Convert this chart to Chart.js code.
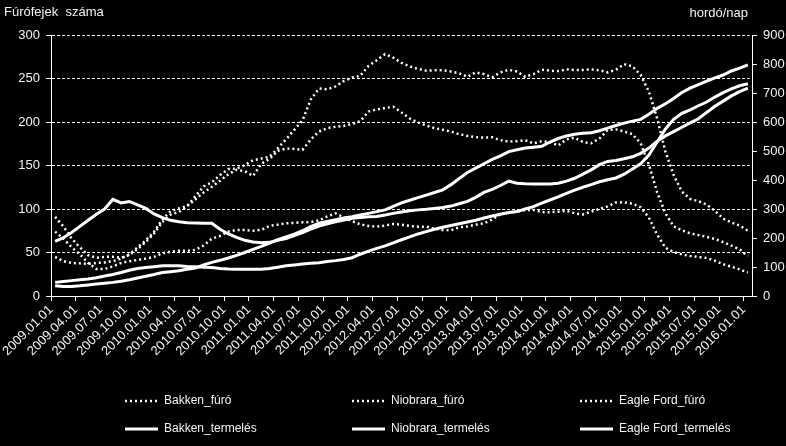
<!DOCTYPE html>
<html>
<head>
<meta charset="utf-8">
<script src="https://cdn.jsdelivr.net/npm/chart.js@4/dist/chart.umd.min.js"></script>
<style>
  html, body { margin: 0; padding: 0; background: #000; }
  #chart { display: block; }
</style>
</head>
<body>
<canvas id="chart" width="786" height="446"></canvas>
<script>
// negyedéves tengelyfeliratok
var tickLabels = [
  '2009.01.01', '2009.04.01', '2009.07.01', '2009.10.01',
  '2010.01.01', '2010.04.01', '2010.07.01', '2010.10.01',
  '2011.01.01', '2011.04.01', '2011.07.01', '2011.10.01',
  '2012.01.01', '2012.04.01', '2012.07.01', '2012.10.01',
  '2013.01.01', '2013.04.01', '2013.07.01', '2013.10.01',
  '2014.01.01', '2014.04.01', '2014.07.01', '2014.10.01',
  '2015.01.01', '2015.04.01', '2015.07.01', '2015.10.01',
  '2016.01.01'
];

// fúrófejek száma (havi, 2009.01 - 2016.01), bal tengely
var bakkenFuro = [
  91, 80, 66, 56, 47, 44, 45, 45, 44, 47,
  54, 62, 72, 85, 93.5, 96.5, 103, 111, 119, 125.5,
  132.5, 140, 145, 143.5, 138, 152, 157.5, 167, 169.5, 169,
  168, 180, 189, 193, 194.5, 195.5, 197.7, 201, 212, 214.5,
  216, 217.5, 211, 204, 199.5, 196, 193, 191, 189, 186,
  184, 182.5, 182, 182.4, 179, 177.5, 178, 179, 175.5, 178,
  177, 173, 180, 182, 177, 175.5, 181, 190.8, 191.5, 189,
  186, 175.5, 151, 119, 95, 80, 75.5, 72, 70, 68,
  65.5, 62, 58, 53.5, 46
];
var niobraraFuro = [
  74, 66, 56, 48, 38, 31, 31, 34, 38, 40,
  41.5, 43, 45, 49, 51, 52, 52, 53, 58, 66,
  69, 74, 76, 76, 75, 76, 80.5, 82, 83.5, 84,
  84.7, 85, 87, 91.5, 95, 90.5, 86, 82.4, 80.5, 79.7,
  81, 82.8, 82, 80.5, 79.7, 79.7, 77.3, 76, 75.5, 79,
  80, 82, 83.5, 88, 94, 95.5, 96.9, 98.9, 98.9, 96.5,
  96.2, 96.9, 98, 95, 93.8, 96.9, 100, 103, 107.5, 107.7,
  106.3, 102, 90, 70.5, 55.5, 50.5, 47.8, 46, 44.8, 43.8,
  40.5, 36.5, 33.7, 30.5, 27
];
var eagleFordFuro = [
  45, 40, 38, 37.5, 37, 38, 38.5, 40, 43, 48,
  56, 64, 74, 88, 97.5, 100.5, 103.5, 114.5, 126, 130.5,
  139, 146, 146.5, 150.5, 156, 158, 160, 170, 180, 191,
  202, 226, 238.5, 237.5, 241, 247, 251, 253, 264.5, 271,
  278, 274, 268, 264, 261, 259, 259.5, 259.5, 258, 256,
  252, 257, 255, 251.5, 257, 260, 258, 252, 255, 260,
  259, 258.5, 260.5, 259.8, 259.8, 260.5, 259.5, 257, 260, 266.5,
  264, 254, 235, 204, 166, 139, 120, 111.5, 109, 105,
  98, 89, 84.5, 81, 75
];

// termelés, hordó/nap, jobb tengely
var bakkenTermeles = [
  188, 201, 219, 240, 261, 282, 300, 333, 321, 326,
  314, 302, 283, 270, 261, 256, 253, 252, 251, 251,
  230, 214, 202, 192, 186, 184, 185, 192, 198, 208,
  219, 231, 241, 249, 256, 262, 268, 271, 273, 274,
  279, 285, 290, 294, 297, 299, 302, 305, 310, 318,
  326, 340, 357, 368, 381, 396, 389, 387, 386, 386,
  386, 389, 396, 406, 420, 435, 453, 464, 467, 473,
  480, 492, 510, 534, 552, 567, 582, 597, 611, 633,
  654, 672, 690, 705, 717
];
var niobraraTermeles = [
  47, 50, 53, 56, 59, 63, 69, 74, 81, 89,
  95, 98, 101, 104, 104, 104, 102, 101, 99, 98,
  95, 93, 92, 92, 92, 92, 95, 99, 104, 107,
  110, 113, 115, 119, 122, 126, 132, 144, 155, 164,
  173, 183, 194, 204, 214, 222, 230, 237, 243, 249,
  255, 261, 269, 276, 282, 288, 291, 300, 308, 320,
  331, 342, 354, 365, 375, 384, 394, 401, 407, 420,
  438, 456, 486, 531, 576, 609, 630, 642, 656, 669,
  686, 701, 714, 725, 732
];
var eagleFordTermeles = [
  35, 33, 33, 35, 38, 41, 44, 47, 51, 56,
  62, 68, 74, 81, 84, 87, 92, 96, 107, 116,
  123, 131, 140, 150, 161, 171, 182, 194, 204, 213,
  225, 239, 251, 257, 263, 269, 273, 279, 285, 291,
  297, 309, 321, 330, 339, 348, 357, 366, 384, 405,
  426, 441, 456, 471, 483, 498, 504, 510, 513, 516,
  531, 543, 552, 558, 561, 563, 570, 579, 588, 596,
  603, 609, 627, 647, 663, 681, 702, 717, 729, 741,
  752, 762, 776, 786, 797
];

var FONT = '"Liberation Sans", Arial, sans-serif';
var TXT = '#f2f2f2';
var DOTS = [2, 3];

// havi pontok a hónap közepére
function pts(arr) {
  return arr.map(function(v, i) { return { x: i + 0.5, y: v }; });
}

function furo(label, arr) {
  return { label: label, data: pts(arr), yAxisID: 'y', borderColor: '#fff',
    borderWidth: 2.5, borderDash: DOTS, pointRadius: 0, tension: 0, fill: false };
}
function termeles(label, arr) {
  return { label: label, data: pts(arr), yAxisID: 'y1', borderColor: '#fff',
    borderWidth: 3, pointRadius: 0, tension: 0, fill: false };
}

// feliratok és jelmagyarázat
var decor = {
  id: 'decor',
  beforeDraw: function(chart) {
    var c = chart.ctx;
    c.save();
    c.fillStyle = '#000';
    c.fillRect(0, 0, chart.width, chart.height);
    c.restore();
  },
  afterDraw: function(chart) {
    var c = chart.ctx;
    c.save();
    c.fillStyle = TXT;
    c.font = '13px ' + FONT;
    c.textBaseline = 'middle';
    c.textAlign = 'left';
    c.fillText('Fúrófejek  száma', 4, 12);
    c.textAlign = 'right';
    c.fillText('hordó/nap', 748, 13);

    var cols = [125, 352, 580];
    var rows = [401, 429];
    var ds = chart.data.datasets;
    c.font = '12px ' + FONT;
    c.textAlign = 'left';
    for (var k = 0; k < ds.length; k++) {
      var x = cols[k % 3], y = rows[Math.floor(k / 3)];
      c.strokeStyle = '#fff';
      c.lineWidth = ds[k].borderWidth;
      c.setLineDash(ds[k].borderDash || []);
      c.beginPath();
      c.moveTo(x, y);
      c.lineTo(x + 33, y);
      c.stroke();
      c.setLineDash([]);
      c.fillText(ds[k].label, x + 39, y);
    }
    c.restore();
  }
};

new Chart(document.getElementById('chart').getContext('2d'), {
  type: 'line',
  data: {
    datasets: [
      furo('Bakken_fúró', bakkenFuro),
      furo('Niobrara_fúró', niobraraFuro),
      furo('Eagle Ford_fúró', eagleFordFuro),
      termeles('Bakken_termelés', bakkenTermeles),
      termeles('Niobrara_termelés', niobraraTermeles),
      termeles('Eagle Ford_termelés', eagleFordTermeles)
    ]
  },
  options: {
    responsive: false,
    animation: false,
    layout: { padding: { top: 35, left: 0, right: 0, bottom: 0 } },
    plugins: { legend: { display: false }, tooltip: { enabled: false } },
    scales: {
      x: {
        type: 'linear', min: 0, max: 85,
        afterBuildTicks: function(s) {
          s.ticks = tickLabels.map(function(t, k) { return { value: k * 3 }; });
        },
        afterFit: function(s) { s.height = 150; s.paddingLeft = 0; s.paddingRight = 0; },
        ticks: {
          autoSkip: false, minRotation: 45, maxRotation: 45, padding: 1,
          color: TXT, font: { family: FONT, size: 13 },
          callback: function(v) { return tickLabels[Math.round(v / 3)]; }
        },
        grid: { drawOnChartArea: false, drawTicks: true, tickLength: 5, color: '#fff' },
        border: { color: '#fff', width: 1 }
      },
      y: {
        position: 'left', min: 0, max: 300,
        afterFit: function(s) { s.width = 51; },
        ticks: { stepSize: 50, padding: 6, color: TXT, font: { family: FONT, size: 13 } },
        grid: { color: '#fff', lineWidth: 1, tickLength: 5, tickBorderDash: [] },
        border: { color: '#fff', width: 1, dash: [3, 2] }
      },
      y1: {
        position: 'right', min: 0, max: 900,
        afterFit: function(s) { s.width = 34; },
        ticks: { stepSize: 100, padding: 6, color: TXT, font: { family: FONT, size: 13 } },
        grid: { drawOnChartArea: false, tickLength: 5, color: '#fff' },
        border: { color: '#fff', width: 1 }
      }
    }
  },
  plugins: [decor]
});
</script>
</body>
</html>
